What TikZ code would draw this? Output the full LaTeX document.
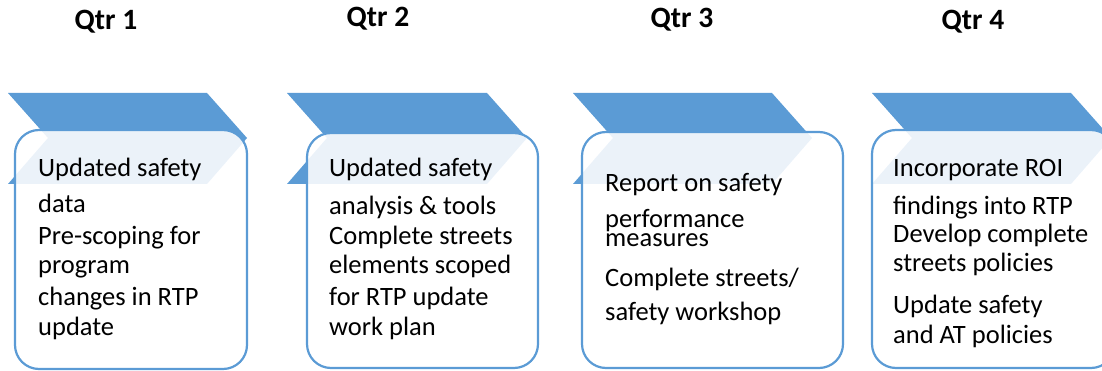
\documentclass[tikz,border=0pt]{standalone}
\usepackage{fontspec}
\setmainfont{Carlito}
\usepackage{tikz}

\definecolor{qblue}{RGB}{91,155,213}

\begin{document}
\begin{tikzpicture}[x=1pt,y=-1pt,
  chev/.style={fill=qblue,draw=none},
  card/.style={draw=qblue,line width=2.2pt,fill=white,fill opacity=0.88,rounded corners=24pt},
  hdr/.style={font=\fontsize{29.5}{32}\selectfont\bfseries,inner sep=0pt},
  txt/.style={font=\fontsize{26.5}{30}\selectfont,anchor=base west,inner sep=0pt}]
\useasboundingbox (0,0) rectangle (1102,371);

\node (q1) at (106,22) [hdr] {Qtr 1};
\node (q2) at (378,19) [hdr] {Qtr 2};
\node (q3) at (682,20) [hdr] {Qtr 3};
\node (q4) at (973,22) [hdr] {Qtr 4};

% quarter 1
\fill [chev] (8,93) -- (207,93) -- (247,138) -- (207,184) -- (8,184) -- (48,138) -- cycle;
\draw [card] (15,130) rectangle (247,369);
\node (t1a) at (38,177) [txt] {Updated safety};
\node (t1b) at (38,213) [txt] {data};
\node (t1c) at (38,245) [txt] {Pre-scoping for};
\node (t1d) at (38,273) [txt] {program};
\node (t1e) at (38,305) [txt] {changes in RTP};
\node (t1f) at (38,335) [txt] {update};

% quarter 2
\fill [chev] (287,93) -- (487,93) -- (527,138) -- (487,184) -- (287,184) -- (327,138) -- cycle;
\draw [card] (307,133) rectangle (538,368);
\node (t2a) at (329,177) [txt] {Updated safety};
\node (t2b) at (329,215) [txt] {analysis \& tools};
\node (t2c) at (329,245) [txt] {Complete streets};
\node (t2d) at (329,273) [txt] {elements scoped};
\node (t2e) at (329,305) [txt] {for RTP update};
\node (t2f) at (329,335) [txt] {work plan};

% quarter 3
\fill [chev] (573,93) -- (772,93) -- (812,138) -- (772,184) -- (573,184) -- (613,138) -- cycle;
\draw [card] (582,132) rectangle (843,368);
\node (t3a) at (605,192) [txt] {Report on safety};
\node (t3b) at (605,228) [txt] {performance};
\node (t3c) at (605,247) [txt] {measures};
\node (t3d) at (605,287) [txt] {Complete streets/};
\node (t3e) at (605,320) [txt] {safety workshop};

% quarter 4
\fill [chev] (872,93) -- (1071,93) -- (1111,138) -- (1071,184) -- (872,184) -- (912,138) -- cycle;
\draw [card] (872,130) rectangle (1115,368);
\node (t4a) at (893,177) [txt] {Incorporate ROI};
\node (t4b) at (893,215) [txt] {findings into RTP};
\node (t4c) at (893,243) [txt] {Develop complete};
\node (t4d) at (893,272) [txt] {streets policies};
\node (t4e) at (893,313) [txt] {Update safety};
\node (t4f) at (893,343) [txt] {and AT policies};

\end{tikzpicture}
\end{document}
